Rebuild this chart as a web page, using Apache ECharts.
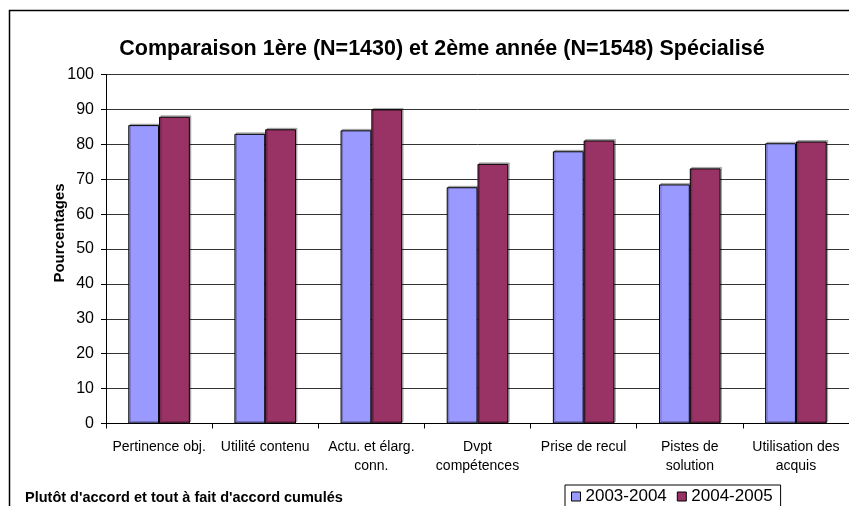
<!DOCTYPE html>
<html>
<head>
<meta charset="utf-8">
<script src="https://cdn.jsdelivr.net/npm/echarts@6/dist/echarts.min.js"></script>
<style>
  html, body { margin: 0; padding: 0; background: #fff; }
  #chart { width: 849px; height: 506px; }
</style>
</head>
<body>
<div id="chart"></div>
<script>
// Categories and percentages per school year
const categories = [
  'Pertinence obj.',
  'Utilité contenu',
  'Actu. et élarg.\nconn.',
  'Dvpt\ncompétences',
  'Prise de recul',
  'Pistes de\nsolution',
  'Utilisation des\nacquis'
];
const values2003 = [85.5, 83.0, 84.0, 67.7, 78.0, 68.5, 80.3];
const values2004 = [87.9, 84.3, 90.0, 74.4, 81.1, 73.1, 80.8];
const seriesNames = ['2003-2004', '2004-2005'];
const yTicks = { min: 0, max: 100, interval: 10 };

const FONT = '"Liberation Sans", Arial, sans-serif';

const chart = echarts.init(document.getElementById('chart'), null, { renderer: 'canvas' });

function barSeries(name, data, color) {
  return {
    name: name,
    type: 'bar',
    data: data,
    barGap: '0%',
    barCategoryGap: '42%',
    itemStyle: {
      color: color,
      borderColor: '#000',
      borderWidth: 1,
      shadowColor: 'rgba(0,0,0,0.25)',
      shadowOffsetX: 1.5,
      shadowOffsetY: -1.5,
      shadowBlur: 0
    },
    emphasis: { disabled: true }
  };
}

chart.setOption({
  animation: false,
  backgroundColor: '#fff',
  textStyle: { fontFamily: FONT, color: '#000' },
  title: {
    text: 'Comparaison 1ère (N=1430) et 2ème année (N=1548) Spécialisé',
    left: 437,
    top: 33,
    textAlign: 'center',
    textStyle: { fontFamily: FONT, fontSize: 21.5, fontWeight: 'bold', color: '#000' }
  },
  legend: {
    data: seriesNames.map(n => ({ name: n, itemStyle: { borderColor: '#000', borderWidth: 1 } })),
    left: 565,
    top: 485,
    itemWidth: 9,
    itemHeight: 9,
    itemGap: 10,
    icon: 'rect',
    borderColor: '#000',
    borderWidth: 1,
    borderRadius: 0,
    padding: [3, 8, 6, 6],
    textStyle: { fontFamily: FONT, fontSize: 17, color: '#000' }
  },
  grid: {
    left: 106,
    right: -5,
    top: 74.5,
    bottom: 506 - 423.5,
    containLabel: false
  },
  xAxis: {
    type: 'category',
    data: categories,
    axisLine: { lineStyle: { color: '#000', width: 1 } },
    axisTick: { show: true, length: 5, lineStyle: { color: '#000' }, alignWithLabel: false },
    axisLabel: {
      interval: 0,
      margin: 14,
      fontFamily: FONT,
      fontSize: 14,
      color: '#000',
      lineHeight: 19,
      align: 'center'
    }
  },
  yAxis: {
    type: 'value',
    min: yTicks.min,
    max: yTicks.max,
    interval: yTicks.interval,
    axisLine: { show: true, lineStyle: { color: '#000', width: 1 } },
    axisTick: { show: true, length: 5, lineStyle: { color: '#000' } },
    axisLabel: { fontFamily: FONT, fontSize: 16, color: '#000', margin: 12 },
    splitLine: { show: true, lineStyle: { color: '#333', width: 1 } }
  },
  series: [
    barSeries(seriesNames[0], values2003, '#9999FF'),
    barSeries(seriesNames[1], values2004, '#993366')
  ],
  graphic: [
    {
      type: 'rect',
      shape: { x: 9.5, y: 10.5, width: 900, height: 600 },
      style: { fill: null, stroke: '#000', lineWidth: 1.5 },
      silent: true,
      z: 100
    },
    {
      // y-axis title
      type: 'text',
      x: 60,
      y: 233,
      rotation: Math.PI / 2,
      style: {
        text: 'Pourcentages',
        fontFamily: FONT,
        fontSize: 15,
        fontWeight: 'bold',
        fill: '#000',
        align: 'center',
        verticalAlign: 'middle'
      }
    },
    {
      type: 'text',
      left: 25,
      top: 490,
      style: {
        text: "Plutôt d'accord et tout à fait d'accord cumulés",
        fontFamily: FONT,
        fontSize: 14.5,
        fontWeight: 'bold',
        fill: '#000'
      }
    }
  ]
});
</script>
</body>
</html>
